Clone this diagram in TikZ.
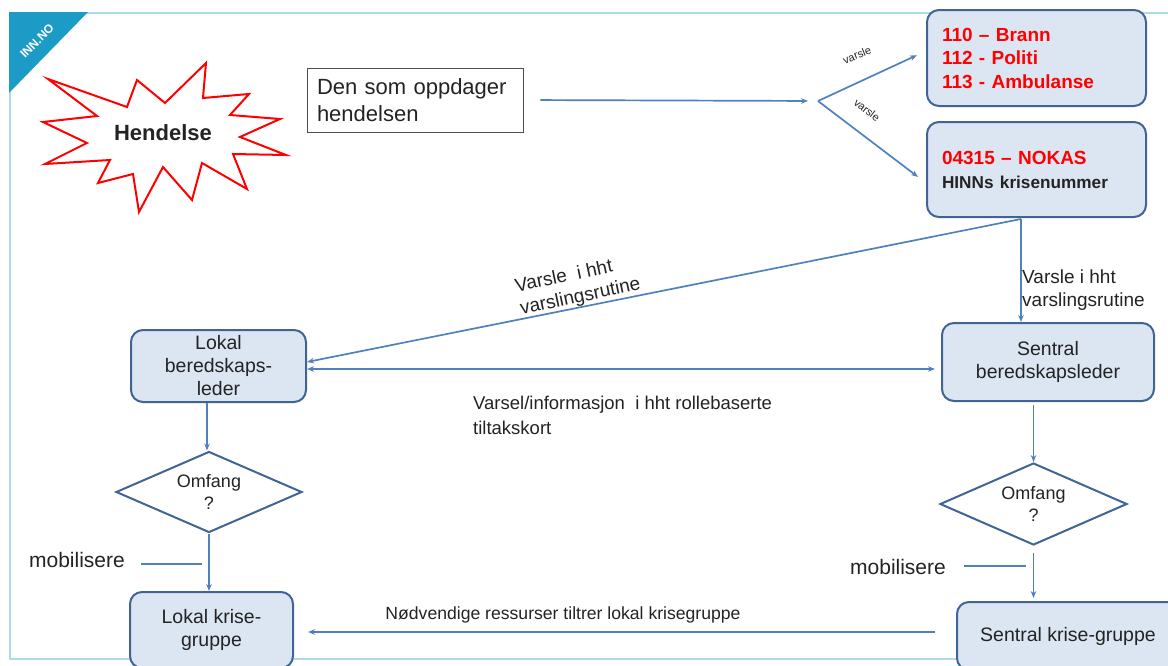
\documentclass[tikz,border=0pt]{standalone}
\usepackage{fontspec}
\setmainfont{Liberation Sans}
\usetikzlibrary{shapes.geometric,arrows.meta,calc}
\definecolor{conn}{RGB}{79,129,189}
\definecolor{boxline}{RGB}{65,100,150}
\definecolor{boxfill}{RGB}{220,230,242}
\definecolor{framec}{RGB}{170,220,235}
\definecolor{tri}{RGB}{28,155,198}
\definecolor{txt}{RGB}{35,35,35}
\newcommand{\fsz}[2]{\fontsize{#1}{#2}\selectfont}
\begin{document}
\begin{tikzpicture}[x=1pt,y=-1pt,
  box/.style={draw=boxline, fill=boxfill, line width=2pt, rounded corners=12pt, align=center, font=\fsz{19.5}{23}, text=txt, inner ysep=2pt},
  dia/.style={diamond, aspect=2.3, draw=boxline, line width=2pt, fill=white, inner sep=0pt, align=center, font=\fsz{18}{22}, text=txt},
  arr/.style={draw=conn, line width=1.7pt, -{Stealth[length=7pt,width=5.5pt]}},
  dblarr/.style={draw=conn, line width=1.7pt, {Stealth[length=7pt,width=5.5pt]}-{Stealth[length=7pt,width=5.5pt]}},
  plain/.style={draw=conn, line width=1.2pt},
  lbl/.style={text=txt, inner sep=2pt}]
\useasboundingbox (0,0) rectangle (1168,665);
\begin{scope}
\clip (0,0) rectangle (1168,665);
% frame
\draw[framec, line width=2pt] (10,13) rectangle (1185,659);
\fill[tri] (9,12) -- (88,12) -- (9,93) -- cycle;
\node[text=white, font=\bfseries\fsz{12}{14}, rotate=45] (inn) at (37,41) {INN.NO};
% starburst
\draw[red, line width=2pt, fill=white, line join=miter]
  (48,79) -- (127,107) -- (137,80) -- (165,103) -- (206,63) -- (203,98) -- (249,94) -- (230,115) -- (280,119) -- (240,137) -- (286,155) -- (233,154) -- (247,189) -- (202,163) -- (192,200) -- (163,167) -- (139,212) -- (133,174) -- (98,183) -- (110,160) -- (45,164) -- (87,143) -- (43,122) -- (97,116) -- cycle;
\node[font=\bfseries\fsz{22}{26}, text=txt] (hend) at (163,133) {Hendelse};
% top boxes
\node[draw=black!70, line width=0.8pt, minimum width=216pt, minimum height=64pt, text width=196pt, align=left, font=\fsz{22}{27}, text=txt] (den) at (415,100) {Den som oppdager\\hendelsen};
\node[box, minimum width=219pt, minimum height=96pt, text width=189pt, align=left, font=\bfseries\fsz{19}{23.5}, text=red] (emerg) at (1036.5,58) {110 – Brann\\112 - Politi\\113 - Ambulanse};
\node[box, minimum width=219pt, minimum height=95pt, text width=189pt, align=left, font=\bfseries\fsz{19}{24}, text=red] (nokas) at (1036.5,169.5) {04315 – NOKAS\\{\color{txt}\fsz{17.2}{24}HINNs krisenummer}};
% middle boxes
\node[box, minimum width=175pt, minimum height=72pt] (lokbl) at (218.5,366) {Lokal\\beredskaps-\\leder};
\node[box, minimum width=212pt, minimum height=78pt] (senbl) at (1048,362) {Sentral\\beredskapsleder};
\node[dia, minimum width=186pt, minimum height=81pt] (lokdia) at (209,492) {Omfang\\?};
\node[dia, minimum width=187pt, minimum height=82pt] (sendia) at (1033.5,504) {Omfang\\?};
\node[box, minimum width=163pt, minimum height=76pt] (lokkg) at (211.5,630) {Lokal krise-\\gruppe};
\node[box, minimum width=222pt, minimum height=68pt] (senkg) at (1068,636) {Sentral krise-gruppe};
% labels
\node[lbl, font=\fsz{11}{13}, rotate=22] (v1) at (857,55) {varsle};
\node[lbl, font=\fsz{11}{13}, rotate=-38] (v2) at (867,110) {varsle};
\node[lbl, font=\fsz{19}{23}, align=left, anchor=west] (vr) at (1020,290) {Varsle i hht\\varslingsrutine};
\node[lbl, font=\fsz{19}{23}, align=left, rotate=12] (vl) at (578,286) {Varsle\ \ i hht\\varslingsrutine};
\node[lbl, font=\fsz{18.5}{25}, align=left, anchor=west] (vi) at (471,415) {Varsel/informasjon\ \ i hht rollebaserte\\tiltakskort};
\node[lbl, font=\fsz{21}{24}] (mob1) at (77,560) {mobilisere};
\node[lbl, font=\fsz{21}{24}] (mob2) at (898,567) {mobilisere};
\node[lbl, font=\fsz{17.6}{20}] (nod) at (563,615) {Nødvendige ressurser tiltrer lokal krisegruppe};
% connectors
\coordinate (fork) at (818,101);
\draw[arr, shorten <=17pt, shorten >=10pt] (den.east) -- (fork);
\draw[arr, shorten >=10pt] (fork) -- ([yshift=7pt]emerg.west);
\draw[arr, shorten >=10pt] (fork) -- ([yshift=-13.5pt]nokas.west);
\coordinate (nk) at ([xshift=-15.5pt,yshift=-1pt]nokas.south);
\draw[arr] (nk) -- (nk |- senbl.north);
\draw[arr] (nk) -- ([yshift=4pt]lokbl.east);
\coordinate (hl) at ([yshift=-3pt]lokbl.east);
\draw[dblarr, shorten >=6pt] (hl) -- (senbl.west |- hl);
\coordinate (lx) at (207,0);
\draw[arr] (lokbl.south -| lx) -- (lx |- lokdia.north);
\draw[arr] (lokdia.south) -- (lokdia.south |- lokkg.north);
\coordinate (m1) at (202,564);
\draw[plain] ([xshift=14pt]mob1.east |- m1) -- (m1);
\draw[arr, shorten <=3pt] (senbl.south -| sendia.north) -- (sendia.north);
\draw[arr, shorten <=7pt, shorten >=3pt] (sendia.south) -- (sendia.south |- senkg.north);
\coordinate (m2) at (1026,566);
\draw[plain] ([xshift=16pt]mob2.east |- m2) -- (m2);
\coordinate (bl) at ([yshift=4pt]senkg.west);
\draw[arr, shorten <=21pt, shorten >=14pt] (bl) -- (lokkg.east |- bl);
\end{scope}
\end{tikzpicture}
\end{document}
